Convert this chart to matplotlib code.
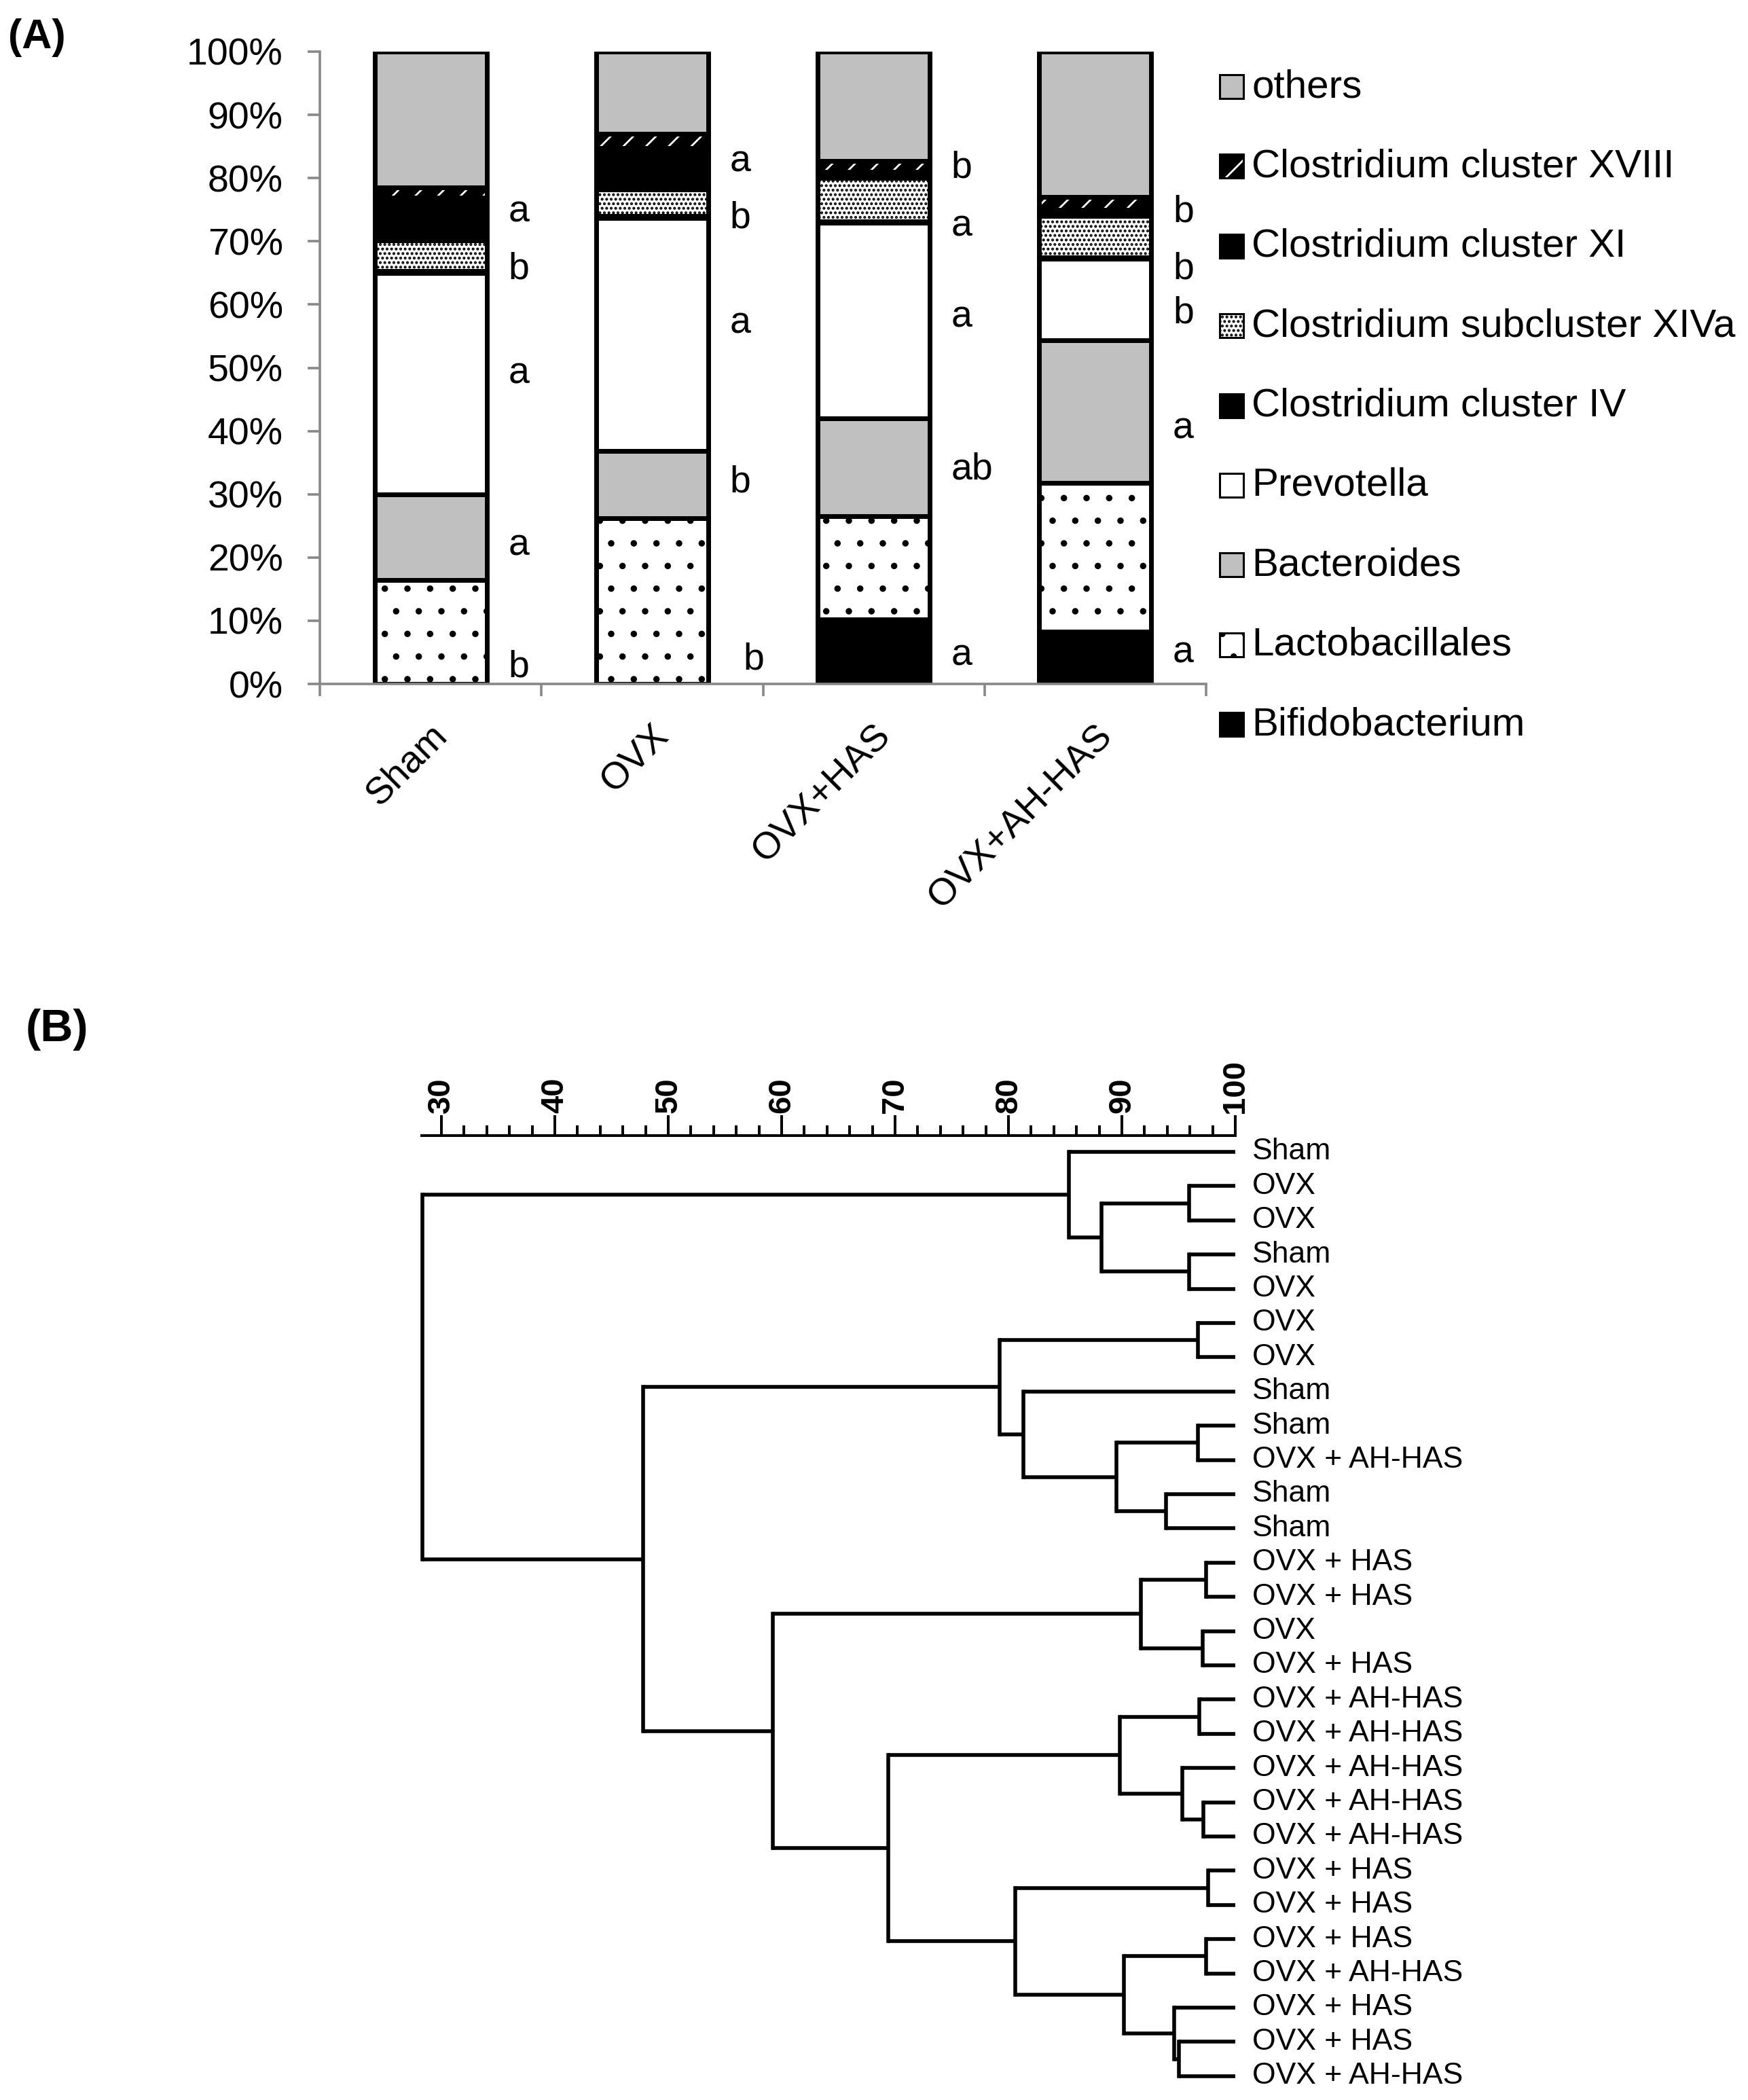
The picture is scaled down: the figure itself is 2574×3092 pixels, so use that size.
import matplotlib
matplotlib.use("Agg")
import matplotlib.pyplot as plt
from matplotlib.patches import Rectangle
import numpy as np

plt.rcParams['font.family'] = ['Liberation Sans', 'DejaVu Sans']
plt.rcParams['hatch.linewidth'] = 1.0

# ---- panel A data (percent of total) ----
groups = ["Sham", "OVX", "OVX+HAS", "OVX+AH-HAS"]
taxa = ["Bifidobacterium", "Lactobacillales", "Bacteroides", "Prevotella",
        "Clostridium cluster IV", "Clostridium subcluster XIVa",
        "Clostridium cluster XI", "Clostridium cluster XVIII", "others"]
bifido = [0.0, 0.0, 10.2, 8.3]
lacto = [16.4, 26.2, 16.3, 23.5]
bactero = [13.6, 10.6, 15.5, 22.5]
prevo = [35.0, 36.9, 30.9, 12.9]
clos_iv = [0.3, 0.3, 0.3, 0.3]
clos_xiva = [4.8, 4.2, 6.8, 6.5]
clos_xi = [6.8, 6.6, 1.0, 1.0]
clos_xviii = [1.6, 2.2, 1.7, 2.0]
others = [21.5, 13.0, 17.3, 23.0]
series = [bifido, lacto, bactero, prevo, clos_iv, clos_xiva, clos_xi, clos_xviii, others]

# significance letters and the height (%) they sit at
sig_letters = [["b", "a", "a", "b", "a"],
               ["b", "b", "a", "b", "a"],
               ["a", "ab", "a", "a", "b"],
               ["a", "a", "b", "b", "b"]]
sig_y = [[2.6, 21.9, 49.0, 65.6, 74.6],
         [3.8, 31.8, 57.0, 73.6, 82.5],
         [4.5, 33.9, 58.0, 72.3, 81.6],
         [4.9, 40.3, 58.6, 65.6, 74.6]]

# ---- panel B data (similarity %, cluster tree) ----
leaf_labels = ["Sham", "OVX", "OVX", "Sham", "OVX", "OVX", "OVX", "Sham", "Sham",
               "OVX + AH-HAS", "Sham", "Sham", "OVX + HAS", "OVX + HAS", "OVX",
               "OVX + HAS", "OVX + AH-HAS", "OVX + AH-HAS", "OVX + AH-HAS",
               "OVX + AH-HAS", "OVX + AH-HAS", "OVX + HAS", "OVX + HAS",
               "OVX + HAS", "OVX + AH-HAS", "OVX + HAS", "OVX + HAS", "OVX + AH-HAS"]
# (child a, child b, similarity); ids >= 28 are earlier merges
merges = [(1, 2, 95.9), (3, 4, 95.9), (28, 29, 88.2), (0, 30, 85.3),
          (5, 6, 96.7), (8, 9, 96.7), (10, 11, 93.9), (33, 34, 89.5),
          (7, 35, 81.3), (32, 36, 79.2),
          (12, 13, 97.4), (14, 15, 97.1), (38, 39, 91.7),
          (16, 17, 96.8), (19, 20, 97.2), (18, 42, 95.3), (41, 43, 89.8),
          (21, 22, 97.6), (23, 24, 97.4), (26, 27, 95.0), (25, 47, 94.6),
          (46, 48, 90.2), (45, 49, 80.6), (44, 50, 69.4), (40, 51, 59.2),
          (37, 52, 47.8), (31, 53, 28.3)]

W, H = 2574, 3092
fig = plt.figure(figsize=(W / 200, H / 200), dpi=200)

# ================= panel A =================
ax = fig.add_axes([471 / W, 1 - 1007 / H, 1305 / W, 931 / H])
x = np.arange(len(groups))
bw = 0.506
lw = 2.5
styles = [dict(facecolor="black", edgecolor="black"),
          dict(facecolor="white", edgecolor="black", hatch="."),
          dict(facecolor="#c0c0c0", edgecolor="black"),
          dict(facecolor="white", edgecolor="black"),
          dict(facecolor="black", edgecolor="black"),
          dict(facecolor="white", edgecolor="black", hatch="....."),
          dict(facecolor="black", edgecolor="black"),
          dict(facecolor="black", edgecolor="white", hatch="//"),
          dict(facecolor="#c0c0c0", edgecolor="black")]

bottom = np.zeros(len(groups))
for vals, st in zip(series, styles):
    vals = np.array(vals)
    if st["edgecolor"] == "white":
        ax.bar(x, vals, bw, bottom=bottom, linewidth=0, **st)
        ax.bar(x, vals, bw, bottom=bottom, fill=False, edgecolor="black", linewidth=lw)
    else:
        ax.bar(x, vals, bw, bottom=bottom, linewidth=lw, **st)
    bottom += vals

for i in range(len(groups)):
    for j, (lt, yv) in enumerate(zip(sig_letters[i], sig_y[i])):
        dx = 0.35 + (0.06 if (i == 1 and j == 0) else 0.0)
        ax.text(i + dx, yv, lt, ha="left", va="center", fontsize=20)

gray = "#888888"
ax.set_xlim(-0.5, len(groups) - 0.5)
ax.set_ylim(0, 100)
ax.set_yticks(np.arange(0, 101, 10))
ax.set_yticklabels([f"{v}%" for v in range(0, 101, 10)], fontsize=20)
ax.set_xticks(np.arange(-0.5, len(groups), 1.0))
ax.set_xticklabels([])
ax.tick_params(axis="both", color=gray, width=1.3, length=6.5, direction="out")
ax.tick_params(axis="y", pad=13)
for s in ["top", "right"]:
    ax.spines[s].set_visible(False)
for s in ["left", "bottom"]:
    ax.spines[s].set_color(gray)
    ax.spines[s].set_linewidth(1.3)
for i, g in enumerate(groups):
    ax.text(i - 0.005, -0.054, g, transform=ax.get_xaxis_transform(),
            rotation=45, rotation_mode="anchor", ha="right", va="top", fontsize=20)

# legend (top entry = last stacked series)
for k, (name, st) in enumerate(zip(taxa[::-1], styles[::-1])):
    yc = 128 + k * 117.4
    box = (1796 / W, 1 - (yc + 17) / H)
    if st["edgecolor"] == "white":
        fig.add_artist(Rectangle(box, 35 / W, 35 / H, transform=fig.transFigure,
                                 facecolor="black", edgecolor="white",
                                 hatch="/", linewidth=0))
        fig.add_artist(Rectangle(box, 35 / W, 35 / H, transform=fig.transFigure,
                                 fill=False, edgecolor="black", linewidth=1.1))
    else:
        fig.add_artist(Rectangle(box, 35 / W, 35 / H, transform=fig.transFigure,
                                 facecolor=st["facecolor"], edgecolor="black",
                                 hatch=st.get("hatch"), linewidth=1.1))
    fig.text(1843 / W, 1 - yc / H, name, ha="left", va="center", fontsize=21)

fig.text(12 / W, 1 - 56 / H, "(A)", fontsize=22, fontweight="bold", va="center")
fig.text(38 / W, 1 - 1516 / H, "(B)", fontsize=24, fontweight="bold", va="center")

# ================= panel B =================
n = len(leaf_labels)
xmin, xmax = 28.26, 100.0
axd = fig.add_axes([621 / W, 1 - 3082 / H, 1198 / W, 1410 / H])
axd.set_xlim(xmin, xmax)
axd.set_ylim(27.5, -0.476)

node_x = {i: 100.0 for i in range(n)}
node_y = {i: float(i) for i in range(n)}
for k, (a, b, h) in enumerate(merges):
    nid = n + k
    for c in (a, b):
        axd.plot([node_x[c], h], [node_y[c], node_y[c]], color="black", lw=2.0,
                 solid_capstyle="butt", clip_on=False)
    axd.plot([h, h], [node_y[a], node_y[b]], color="black", lw=2.0,
             solid_capstyle="projecting", clip_on=False)
    node_x[nid] = h
    node_y[nid] = (node_y[a] + node_y[b]) / 2

for i, lab in enumerate(leaf_labels):
    axd.text(101.5, i, lab, ha="left", va="center", fontsize=16, clip_on=False)

axd.xaxis.tick_top()
axd.set_xticks(np.arange(30, 101, 10))
axd.set_xticks(np.arange(30, 101, 2), minor=True)
axd.set_xticklabels([str(v) for v in range(30, 101, 10)], rotation=90,
                    fontsize=17, fontweight="bold")
axd.tick_params(axis="x", which="major", length=10.8, width=1.44, pad=1, color="black")
axd.tick_params(axis="x", which="minor", length=5.4, width=1.44, color="black")
axd.set_yticks([])
for s in ["bottom", "left", "right"]:
    axd.spines[s].set_visible(False)
axd.spines["top"].set_linewidth(1.44)

fig.savefig("out.png", dpi=200)
